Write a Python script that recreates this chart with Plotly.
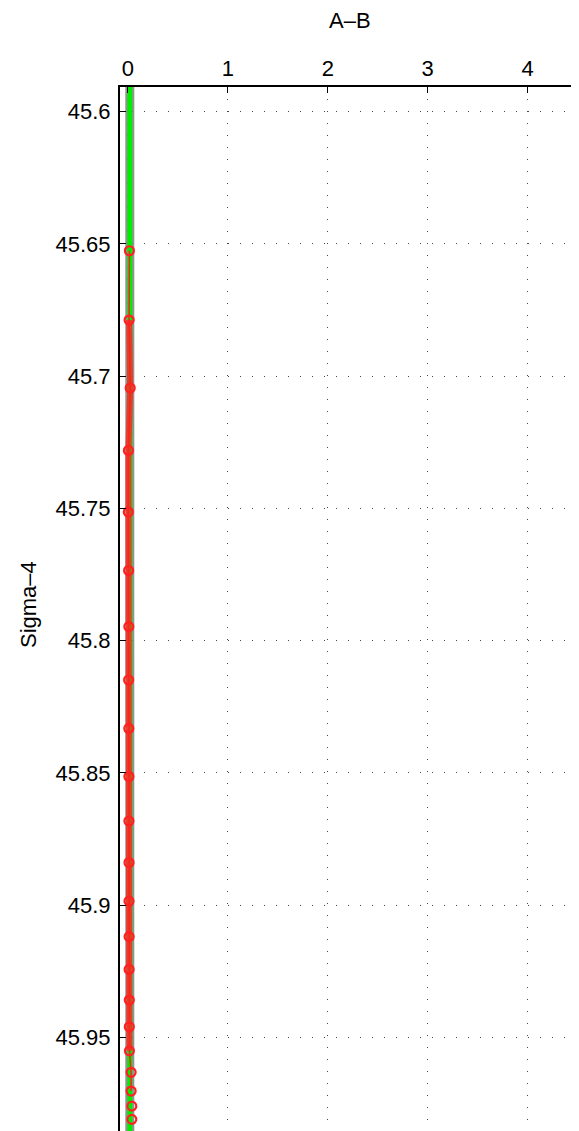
import plotly.graph_objects as go

# Data
sigma = [45.6526, 45.6788, 45.7045, 45.7281, 45.7514, 45.7735, 45.7947, 45.8149,
         45.8332, 45.8514, 45.8682, 45.8839, 45.8985, 45.9119, 45.9243, 45.9359,
         45.9460, 45.9551, 45.9632, 45.9703, 45.9760, 45.9810]
diff_ab = [0.016, 0.013, 0.024, 0.006, 0.005, 0.008, 0.010, 0.008,
           0.010, 0.011, 0.011, 0.012, 0.012, 0.013, 0.013, 0.015,
           0.015, 0.016, 0.033, 0.033, 0.040, 0.040]
ref_x = [0.02, 0.02]
ref_y = [45.58, 46.0]

xticks = [0, 1, 2, 3, 4]
yticks = [45.6, 45.65, 45.7, 45.75, 45.8, 45.85, 45.9, 45.95]
yticklabels = ["45.6", "45.65", "45.7", "45.75", "45.8", "45.85", "45.9", "45.95"]

fig = go.Figure()
# reference line: gray halo + green core
fig.add_trace(go.Scatter(x=ref_x, y=ref_y, mode="lines",
                         line=dict(color="rgba(120,120,120,0.8)", width=9),
                         hoverinfo="skip", showlegend=False))
fig.add_trace(go.Scatter(x=ref_x, y=ref_y, mode="lines",
                         line=dict(color="#00ee00", width=5),
                         hoverinfo="skip", showlegend=False))
# thick red band (middle section)
fig.add_trace(go.Scatter(x=diff_ab[1:18], y=sigma[1:18], mode="lines",
                         line=dict(color="rgba(255,40,40,0.85)", width=6),
                         hoverinfo="skip", showlegend=False))
# thin red line with circle markers
fig.add_trace(go.Scatter(x=diff_ab[:20], y=sigma[:20], mode="lines",
                         line=dict(color="#ff2020", width=1.5),
                         hoverinfo="skip", showlegend=False))
fig.add_trace(go.Scatter(x=diff_ab, y=sigma, mode="markers",
                         marker=dict(symbol="circle-open", size=9, color="#ff2020",
                                     line=dict(width=2.2, color="#ff2020")),
                         showlegend=False))

font = dict(family="Liberation Sans, Arial, sans-serif", size=22, color="black")
fig.update_layout(
    width=579, height=1131,
    margin=dict(l=112, r=8, t=79, b=8),
    paper_bgcolor="white", plot_bgcolor="white",
    font=font,
    xaxis=dict(side="top", range=[-0.078, 4.513], tickvals=xticks,
               ticks="inside", ticklen=6, tickwidth=1, tickcolor="black",
               showline=True, linecolor="black", linewidth=1.5,
               showgrid=True, gridcolor="#444", gridwidth=1, griddash="1px,11px",
               zeroline=False, automargin=False),
    yaxis=dict(range=[45.9854, 45.5907], tickvals=yticks, ticktext=yticklabels,
               ticks="inside", ticklen=6, tickwidth=1, tickcolor="black",
               showline=True, linecolor="black", linewidth=2,
               showgrid=True, gridcolor="#444", gridwidth=1, griddash="1px,11px",
               zeroline=False, automargin=False, ticklabelstandoff=3),
    annotations=[
        dict(text="A–B", xref="paper", yref="paper", x=0.5, y=1, yshift=67,
             showarrow=False, xanchor="center", yanchor="middle", font=font),
        dict(text="Sigma–4", xref="paper", yref="paper", x=0, y=0.5, xshift=-92,
             yshift=4, textangle=-90, showarrow=False, xanchor="center",
             yanchor="middle", font=font),
    ],
)

fig.write_html("out.html")
